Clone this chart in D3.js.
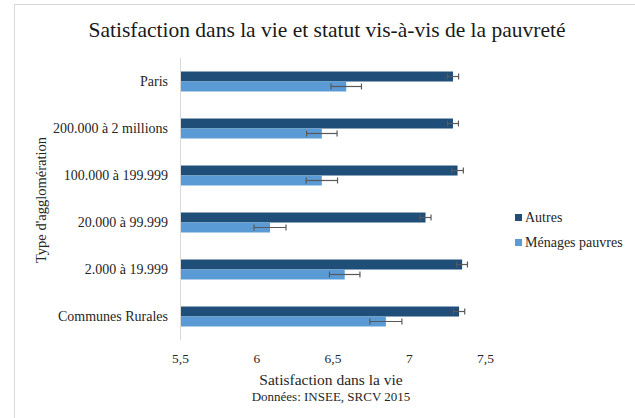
<!DOCTYPE html>
<html>
<head>
<meta charset="utf-8">
<script src="https://cdn.jsdelivr.net/npm/d3@7"></script>
<style>
  body { margin: 0; background: #fff; }
  svg { display: block; font-family: "Liberation Serif", serif; }
</style>
</head>
<body>
<div id="chart"></div>
<script>
// DATA
const categories = ["Paris", "200.000 à 2 millions", "100.000 à 199.999", "20.000 à 99.999", "2.000 à 19.999", "Communes Rurales"];
const seriesNames = ["Autres", "Ménages pauvres"];
const autres = [7.29, 7.29, 7.32, 7.11, 7.35, 7.33];
const autresErr = [0.037, 0.036, 0.038, 0.036, 0.035, 0.037];
const pauvres = [6.59, 6.43, 6.43, 6.09, 6.58, 6.85];
const pauvresErr = [0.10, 0.10, 0.103, 0.105, 0.10, 0.105];
const xTicks = [5.5, 6, 6.5, 7, 7.5];
const colors = ["#1F4E79", "#5B9BD5"];

const W = 635, H = 418;

const svg = d3.select("#chart").append("svg").attr("width", W).attr("height", H);

// chart frame
svg.append("rect").attr("x", 14.5).attr("y", 4.5).attr("width", W).attr("height", H)
  .attr("fill", "none").attr("stroke", "#d9d9d9");

const x = d3.scaleLinear().domain([5.5, 7.5]).range([180, 485]);
const y = d3.scaleBand().domain(categories).range([58, 340]).paddingInner(0.575).paddingOuter(0.2875);
const sub = d3.scaleBand().domain(seriesNames).range([0, y.bandwidth()]);

svg.append("text").attr("x", 327).attr("y", 37).attr("text-anchor", "middle")
  .attr("font-size", 21.5).attr("fill", "#1a1a1a")
  .text("Satisfaction  dans la vie et statut vis-à-vis de la pauvreté");

const rows = categories.map((c, i) => ({ cat: c, vals: [
  { s: seriesNames[0], v: autres[i], e: autresErr[i] },
  { s: seriesNames[1], v: pauvres[i], e: pauvresErr[i] }
]}));

const g = svg.selectAll(".row").data(rows).enter().append("g")
  .attr("transform", d => "translate(0," + y(d.cat) + ")");

const bar = g.selectAll(".bar").data(d => d.vals).enter().append("g");
bar.append("rect")
  .attr("x", x(5.5))
  .attr("y", d => sub(d.s))
  .attr("width", d => x(d.v) - x(5.5))
  .attr("height", sub.bandwidth())
  .attr("fill", (d, i) => colors[i]);

// error bars
bar.each(function(d) {
  const b = d3.select(this);
  const cy = sub(d.s) + sub.bandwidth() / 2;
  const x0 = x(d.v - d.e), x1 = x(d.v + d.e);
  b.append("line").attr("x1", x0).attr("x2", x1).attr("y1", cy).attr("y2", cy);
  b.append("line").attr("x1", x0).attr("x2", x0).attr("y1", cy - 3).attr("y2", cy + 3);
  b.append("line").attr("x1", x1).attr("x2", x1).attr("y1", cy - 3).attr("y2", cy + 3);
  b.selectAll("line").attr("stroke", "#595959").attr("stroke-width", 1.2);
});

// vertical axis line
svg.append("line").attr("x1", 180.5).attr("x2", 180.5).attr("y1", 58).attr("y2", 340)
  .attr("stroke", "#d9d9d9");

// category labels
svg.selectAll(".cat").data(categories).enter().append("text")
  .attr("x", 168).attr("y", d => y(d) + y.bandwidth() / 2 + 4.5)
  .attr("text-anchor", "end").attr("font-size", 14).attr("fill", "#262626")
  .text(d => d);

// x axis
const xAxis = svg.append("g").attr("transform", "translate(0,340)")
  .call(d3.axisBottom(x).tickValues(xTicks).tickSize(0).tickPadding(13)
    .tickFormat(d => String(d).replace(".", ",")));
xAxis.select(".domain").remove();
xAxis.selectAll("text").attr("font-size", 13.5).attr("fill", "#262626")
  .attr("font-family", "Liberation Serif, serif");

svg.append("text").attr("x", 331).attr("y", 385).attr("text-anchor", "middle")
  .attr("font-size", 15.5).attr("fill", "#262626").text("Satisfaction  dans la vie");
svg.append("text").attr("x", 331).attr("y", 401).attr("text-anchor", "middle")
  .attr("font-size", 13).attr("fill", "#262626").text("Données: INSEE, SRCV 2015");

svg.append("text").attr("transform", "translate(46,200) rotate(-90)")
  .attr("text-anchor", "middle").attr("font-size", 14.5).attr("fill", "#262626")
  .text("Type d'agglomération");

// legend
const leg = svg.selectAll(".leg").data(seriesNames).enter().append("g")
  .attr("transform", (d, i) => "translate(515," + (218 + i * 25) + ")");
leg.append("rect").attr("x", 0).attr("y", -4).attr("width", 7).attr("height", 7)
  .attr("fill", (d, i) => colors[i]);
leg.append("text").attr("x", 10).attr("y", 4).attr("font-size", 14).attr("fill", "#262626")
  .text(d => d);
</script>
</body>
</html>
